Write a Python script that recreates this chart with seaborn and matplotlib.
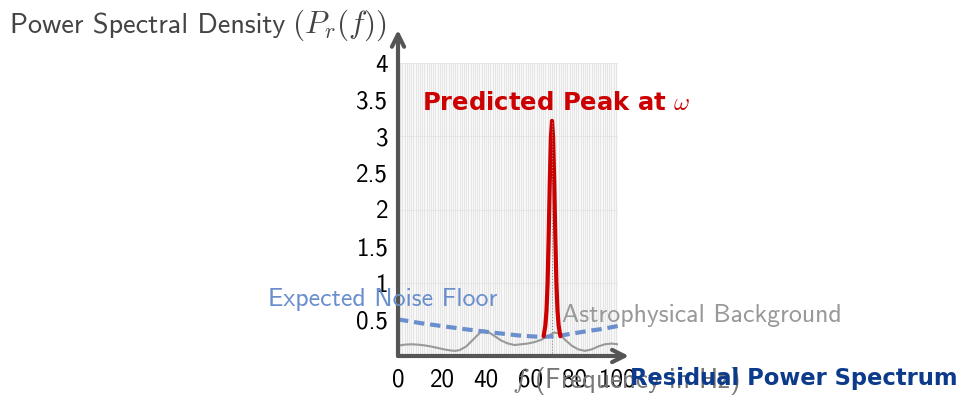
import matplotlib
matplotlib.use("Agg")
import matplotlib.pyplot as plt
from matplotlib.ticker import MultipleLocator
import pandas as pd
import seaborn as sns

# astrophysical background (grey wiggle)
bg_freq = [0, 3, 6, 9, 12, 15, 18, 21, 24, 26, 28, 31, 34, 37, 39, 41, 44, 47, 50, 53, 56,
           59, 62, 65, 68, 71, 73, 76, 79, 82, 85, 88, 91, 94, 97, 100]
bg_power = [0.14, 0.155, 0.16, 0.155, 0.145, 0.13, 0.11, 0.09, 0.075, 0.07, 0.08, 0.13, 0.22,
            0.31, 0.35, 0.33, 0.27, 0.21, 0.17, 0.15, 0.16, 0.17, 0.19, 0.22, 0.27, 0.32, 0.31,
            0.22, 0.14, 0.09, 0.07, 0.09, 0.13, 0.16, 0.17, 0.16]

# expected noise floor (dashed blue)
noise_freq = [0, 10, 22, 32, 43, 55, 65, 72, 78, 86, 93, 100]
noise_power = [0.50, 0.45, 0.40, 0.36, 0.32, 0.28, 0.26, 0.27, 0.30, 0.34, 0.37, 0.41]

# predicted peak (red)
peak_freq = [66.2, 67, 67.5, 68, 68.5, 69, 69.5, 70, 70.5, 71, 71.5, 72, 72.5, 73, 73.8]
peak_power = [0.27, 0.42, 0.62, 1.0, 1.65, 2.39, 2.99, 3.21, 2.99, 2.39, 1.65, 1.0, 0.62, 0.42, 0.27]
omega = 70

xticks = [0, 20, 40, 60, 80, 100]
yticks = [0.5, 1, 1.5, 2, 2.5, 3, 3.5, 4]
ytick_labels = ["0.5", "1", "1.5", "2", "2.5", "3", "3.5", "4"]

sns.set_theme(style="white")
plt.rcParams["font.family"] = ["cmss10", "DejaVu Sans"]
plt.rcParams["mathtext.fontset"] = "cm"
plt.rcParams["axes.formatter.use_mathtext"] = True

axis_col = "#555555"
fig = plt.figure(figsize=(9.71, 3.96), dpi=100)
ax = fig.add_axes([398 / 971, 40 / 396, 220 / 971, 293 / 396])
ax.set_facecolor("#f8f8f8")

bg = pd.DataFrame({"f": bg_freq, "p": bg_power})
noise = pd.DataFrame({"f": noise_freq, "p": noise_power})
peak = pd.DataFrame({"f": peak_freq, "p": peak_power})

sns.lineplot(data=bg, x="f", y="p", ax=ax, color="#999999", lw=1.5)
sns.lineplot(data=noise, x="f", y="p", ax=ax, color="#6a8fcc", lw=3, linestyle=(0, (2.5, 1.4)))
sns.lineplot(data=peak, x="f", y="p", ax=ax, color="#cc0000", lw=3)
ax.plot([omega, omega], [0, max(peak_power)], color="#888888", lw=0.8, ls=":")

ax.set_xlim(0, 100)
ax.set_ylim(0, 4)
ax.xaxis.set_minor_locator(MultipleLocator(1))
ax.set_xticks(xticks)
ax.set_yticks(yticks)
ax.set_xticklabels([str(t) for t in xticks])
ax.set_yticklabels(ytick_labels)
ax.grid(which="minor", axis="x", color="#e2e2e2", lw=0.6)
ax.grid(which="major", axis="x", color="#e2e2e2", lw=0.6)
for yv in [1, 2, 3, 4]:
    ax.axhline(yv, color="#e8e8e8", lw=0.8, zorder=0)
ax.set_axisbelow(True)
ax.tick_params(axis="x", direction="in", length=10, width=1, color=axis_col,
               labelsize=18, pad=9, labelcolor="black")
ax.tick_params(axis="y", length=0, labelsize=18, pad=7, labelcolor="black")
ax.set_xlabel("")
ax.set_ylabel("")
for s in ax.spines.values():
    s.set_visible(False)

# arrow axes
ax.annotate("", xy=(0, 1.113), xytext=(0, 0), xycoords="axes fraction",
            arrowprops=dict(arrowstyle="->", lw=3, color=axis_col, mutation_scale=22,
                            shrinkA=0, shrinkB=0), annotation_clip=False)
ax.annotate("", xy=(1.05, 0), xytext=(0, 0), xycoords="axes fraction",
            arrowprops=dict(arrowstyle="->", lw=3, color=axis_col, mutation_scale=22,
                            shrinkA=0, shrinkB=0), annotation_clip=False)

ax.text(11, 3.46, r"Predicted Peak at $\omega$", color="#cc0000", fontsize=17.5,
        fontweight="bold", va="center", ha="left", clip_on=False,
        family=["DejaVu Sans"])
ax.text(45, 0.77, "Expected Noise Floor", color="#6a8fcc", fontsize=18.6,
        va="center", ha="right", clip_on=False)
ax.text(74.5, 0.55, "Astrophysical Background", color="#999999", fontsize=18.6,
        va="center", ha="left", clip_on=False)

fig.text(10 / 971, 1 - 25 / 396, "Power Spectral Density", fontsize=20.3,
         color="#444444", va="center", ha="left")
fig.text(292 / 971, 1 - 25 / 396, r"$(P_r(f))$", fontsize=22.5,
         color="#444444", va="center", ha="left")
fig.text(512 / 971, 1 - 381 / 396, r"$f$ (Frequency in Hz)", fontsize=19.5,
         color="#777777", va="center", ha="left")
fig.text(630 / 971, 1 - 378 / 396, "Residual Power Spectrum", fontsize=16.3,
         fontweight="bold", color="#0d3b8c", va="center", ha="left",
         family=["DejaVu Sans"])

fig.savefig("out.png", dpi=100)
